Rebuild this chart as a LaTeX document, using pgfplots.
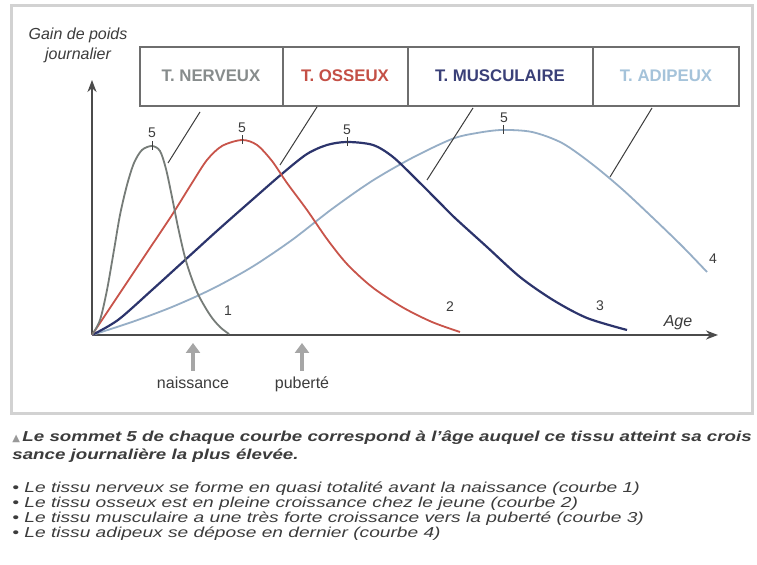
\documentclass[border=0pt]{standalone}
\usepackage{fontspec}
\setmainfont{Liberation Sans}
\newfontfamily\dejavu{DejaVu Sans}
\usepackage{graphicx}
\usepackage{pgfplots}
\pgfplotsset{compat=1.18}
\usetikzlibrary{arrows.meta}

\definecolor{cNerv}{RGB}{118,124,120}
\definecolor{cOss}{RGB}{200,84,74}
\definecolor{cMus}{RGB}{44,52,108}
\definecolor{cAdi}{RGB}{150,174,198}
\definecolor{cAxis}{RGB}{75,75,75}
\definecolor{cTxt}{RGB}{60,60,60}
\definecolor{cFrame}{RGB}{210,210,210}
\definecolor{cBox}{RGB}{110,110,110}
\definecolor{tNerv}{RGB}{135,140,140}
\definecolor{tOss}{RGB}{196,80,70}
\definecolor{tMus}{RGB}{58,64,120}
\definecolor{tAdi}{RGB}{165,195,218}

\newcommand\captfont{\fontsize{7.2}{8}\selectfont\itshape\color{cTxt}}
\newcommand\sx[1]{\scalebox{1.33}[1]{#1}}
\newcommand\sxb[1]{\scalebox{1.30}[1]{#1}}

\begin{document}
\begin{tikzpicture}
\path[use as bounding box] (-46pt,-115pt) rectangle (332.5pt,167.5pt);
\clip (-46pt,-115pt) rectangle (332.5pt,167.5pt);
\fill[white] (-46pt,-115pt) rectangle (332.5pt,167.5pt);
\begin{axis}[
  x=0.5pt, y=0.5pt,
  xmin=0, xmax=626, ymin=0, ymax=255,
  enlargelimits=false,
  axis lines=left,
  axis line style={cAxis, line width=1pt, -{Stealth[length=6pt,width=4.5pt]}},
  xtick=\empty, ytick=\empty,
  clip=false,
  no markers,
]
% panel frame
\draw[cFrame, line width=1.5pt] (axis cs:-80,329) rectangle (axis cs:660,-79);

% curve 4 : tissu adipeux
\addplot[cAdi, line width=0.9pt, smooth] coordinates {
(0,0) (40,13) (80,28) (120,46) (160,68) (200,95) (240,126) (280,154)
(320,177) (360,196) (385,202) (410,205) (440,203) (470,192) (500,171)
(530,146) (560,118) (590,89) (615,63)};
% curve 3 : tissu musculaire
\addplot[cMus, line width=1.1pt, smooth] coordinates {
(0,0) (26,15) (60,45) (93,75) (126,105) (160,135) (191,162) (215,181)
(235,190) (255,193) (281,190) (301,178) (325,155) (348,132) (363,117)
(395,88) (428,58) (461,35) (495,17) (535,5)};
% curve 2 : tissu osseux
\addplot[cOss, line width=0.9pt, smooth] coordinates {
(0,0) (20,30) (40,60) (60,90) (80,120) (100,152) (115,175) (130,189)
(150,195) (165,190) (180,174) (195,152) (215,125) (235,96) (255,71)
(280,48) (310,28) (340,13) (368,3)};
% curve 1 : tissu nerveux
\addplot[cNerv, line width=0.9pt, smooth] coordinates {
(0,0) (8,15) (15,45) (22,85) (28,120) (35,150) (42,172) (50,185)
(60,189) (68,184) (74,166) (80,138) (86,108) (94,74) (105,43)
(118,20) (128,8) (137,1)};

% peak ticks
\draw[cTxt, line width=0.4pt] (axis cs:60,185) -- (axis cs:60,194);
\draw[cTxt, line width=0.4pt] (axis cs:150,191) -- (axis cs:150,200);
\draw[cTxt, line width=0.4pt] (axis cs:255,189) -- (axis cs:255,198);
\draw[cTxt, line width=0.4pt] (axis cs:411,201) -- (axis cs:411,210);

% labels 5 and curve numbers
\begin{scope}[every node/.style={font=\fontsize{7}{8}\selectfont, text=cTxt}]
\node at (axis cs:60,202) {5};
\node at (axis cs:150,207) {5};
\node at (axis cs:255,205) {5};
\node at (axis cs:412,217) {5};
\node at (axis cs:136,24) {1};
\node at (axis cs:358,28) {2};
\node at (axis cs:508,29) {3};
\node at (axis cs:621,76) {4};
\end{scope}

\node[font=\fontsize{8}{9}\selectfont\itshape, text=cTxt] at (axis cs:586,12) {Age};
\node[font=\fontsize{8}{9}\selectfont\itshape, text=cTxt] at (axis cs:-14,300) {Gain de poids};
\node[font=\fontsize{8}{9}\selectfont\itshape, text=cTxt] at (axis cs:-14,280) {journalier};

% boxes
\filldraw[fill=white, draw=cBox, line width=0.8pt] (axis cs:48,229) rectangle (axis cs:647,288);
\draw[cBox, line width=0.8pt] (axis cs:191,229) -- (axis cs:191,288);
\draw[cBox, line width=0.8pt] (axis cs:316,229) -- (axis cs:316,288);
\draw[cBox, line width=0.8pt] (axis cs:501,229) -- (axis cs:501,288);
\begin{scope}[every node/.style={font=\fontsize{8.4}{10}\selectfont\bfseries}]
\node[text=tNerv] at (axis cs:119,259) {T. NERVEUX};
\node[text=tOss] at (axis cs:253,259) {T. OSSEUX};
\node[text=tMus] at (axis cs:408,259) {T. MUSCULAIRE};
\node[text=tAdi] at (axis cs:574,259) {T. ADIPEUX};
\end{scope}

% leader lines
\draw[cTxt, line width=0.5pt] (axis cs:108,223) -- (axis cs:76,172);
\draw[cTxt, line width=0.5pt] (axis cs:225,228) -- (axis cs:188,170);
\draw[cTxt, line width=0.5pt] (axis cs:381,227) -- (axis cs:335,155);
\draw[cTxt, line width=0.5pt] (axis cs:560,227) -- (axis cs:518,158);

% naissance / puberte
\draw[black!35, line width=2.2pt, -{Triangle[length=5pt,width=7pt]}] (axis cs:101,-36) -- (axis cs:101,-8);
\draw[black!35, line width=2.2pt, -{Triangle[length=5pt,width=7pt]}] (axis cs:210,-36) -- (axis cs:210,-8);
\node[font=\fontsize{8}{9}\selectfont, text=cTxt] at (axis cs:101,-48) {naissance};
\node[font=\fontsize{8}{9}\selectfont, text=cTxt] at (axis cs:210,-49) {puberté};

% caption
\node[anchor=west, inner sep=0pt, font=\captfont] at (axis cs:-80,-103)
  {{\dejavu\fontsize{5}{6}\selectfont\color{black!40}▲}\,\sxb{\bfseries Le sommet 5 de chaque courbe correspond à l'âge auquel ce tissu atteint sa crois}};
\node[anchor=west, inner sep=0pt, font=\captfont] at (axis cs:-80,-121)
  {\sxb{\bfseries sance journalière la plus élevée.}};
\node[anchor=west, inner sep=0pt, font=\captfont] at (axis cs:-80,-154)
  {\sx{• Le tissu nerveux se forme en quasi totalité avant la naissance (courbe 1)}};
\node[anchor=west, inner sep=0pt, font=\captfont] at (axis cs:-80,-169)
  {\sx{• Le tissu osseux est en pleine croissance chez le jeune (courbe 2)}};
\node[anchor=west, inner sep=0pt, font=\captfont] at (axis cs:-80,-184)
  {\sx{• Le tissu musculaire a une très forte croissance vers la puberté (courbe 3)}};
\node[anchor=west, inner sep=0pt, font=\captfont] at (axis cs:-80,-199)
  {\sx{• Le tissu adipeux se dépose en dernier (courbe 4)}};
\end{axis}
\end{tikzpicture}
\end{document}
